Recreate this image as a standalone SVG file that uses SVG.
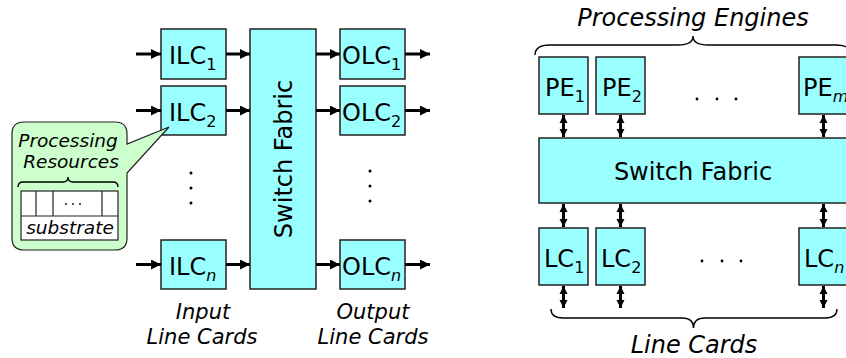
<svg xmlns="http://www.w3.org/2000/svg" width="846" height="358" viewBox="0 0 846 358">
<style>
text{font-family:"DejaVu Sans",Verdana,sans-serif;fill:#000}
.box{fill:#99ffff;stroke:#222;stroke-width:1.5}
.lbl{font-size:24px}
.sub{font-size:16px}
.it{font-style:italic}
.cap{font-size:21px;font-style:italic;text-anchor:middle}
.capR{font-size:24px;font-style:italic;text-anchor:middle}
.arr{stroke:#000;stroke-width:3;fill:none;marker-end:url(#ah)}
.darr{stroke:#000;stroke-width:3;fill:none;marker-end:url(#dh);marker-start:url(#dh)}
.brace{fill:none;stroke:#000;stroke-width:1.4}
.thin{fill:none;stroke:#222;stroke-width:1.2}
.dot{fill:#000}
</style>
<defs>
<marker id="ah" viewBox="0 0 10 10" refX="10" refY="5" markerWidth="10" markerHeight="10" markerUnits="userSpaceOnUse" orient="auto-start-reverse">
<path d="M0,0 L10,5 L0,10 Z" fill="#000"/>
</marker>
<marker id="dh" viewBox="0 0 10 10" refX="10" refY="5" markerWidth="8" markerHeight="10" markerUnits="userSpaceOnUse" orient="auto-start-reverse">
<path d="M0,0 L10,5 L0,10 Z" fill="#000"/>
</marker>
</defs>

<!-- Left diagram -->
<g id="ILC1"><rect class="box" x="161" y="29" width="65" height="50"/><text class="lbl" x="169" y="64">ILC<tspan class="sub" dy="6">1</tspan></text></g>
<g id="ILC2"><rect class="box" x="161" y="86" width="65" height="49"/><text class="lbl" x="169" y="121">ILC<tspan class="sub" dy="6">2</tspan></text></g>
<g id="ILCn"><rect class="box" x="161" y="240" width="65" height="49"/><text class="lbl" x="169" y="275">ILC<tspan class="sub it" dy="6">n</tspan></text></g>
<g id="SF1"><rect class="box" x="250" y="29" width="66" height="260"/><text class="lbl" transform="translate(292,159) rotate(-90)" text-anchor="middle">Switch Fabric</text></g>
<g id="OLC1"><rect class="box" x="340" y="29" width="65" height="50"/><text class="lbl" x="342" y="64">OLC<tspan class="sub" dy="6">1</tspan></text></g>
<g id="OLC2"><rect class="box" x="340" y="86" width="65" height="49"/><text class="lbl" x="342" y="121">OLC<tspan class="sub" dy="6">2</tspan></text></g>
<g id="OLCn"><rect class="box" x="340" y="240" width="65" height="49"/><text class="lbl" x="342" y="275">OLC<tspan class="sub it" dy="6">n</tspan></text></g>

<g id="dotsL">
<circle class="dot" cx="191" cy="173" r="1.5"/><circle class="dot" cx="191" cy="188" r="1.5"/><circle class="dot" cx="191" cy="203" r="1.5"/>
<circle class="dot" cx="370" cy="171" r="1.5"/><circle class="dot" cx="370" cy="186" r="1.5"/><circle class="dot" cx="370" cy="201" r="1.5"/>
</g>

<g id="callout">
<path d="M24,122 H115 Q127,122 127,134 V144 L169,127 L127,173 V238 Q127,250 115,250 H24 Q12,250 12,238 V134 Q12,122 24,122 Z" fill="#ccffcc" stroke="#222" stroke-width="1.2"/>
<text class="it" font-size="18.5" x="68" y="147" text-anchor="middle">Processing</text>
<text class="it" font-size="18.5" x="71" y="168" text-anchor="middle">Resources</text>
<path class="brace" d="M18,187 Q18,182 23,182 H63 Q68,182 68,177 Q68,182 73,182 H113 Q118,182 118,187"/>
<rect x="21" y="191" width="97" height="49" fill="#fff" stroke="#222" stroke-width="1.2"/>
<path class="thin" d="M21,216 H118 M36,191 V216 M53,191 V216 M102,191 V216"/>
<circle class="dot" cx="66" cy="204" r="0.9"/><circle class="dot" cx="73" cy="204" r="0.9"/><circle class="dot" cx="80" cy="204" r="0.9"/>
<text class="it" font-size="18.5" x="70" y="234" text-anchor="middle">substrate</text>
</g>

<g id="labelsL">
<text class="cap" x="203" y="319">Input</text>
<text class="cap" x="202" y="344">Line Cards</text>
<text class="cap" x="373" y="319">Output</text>
<text class="cap" x="373" y="344">Line Cards</text>
</g>

<!-- Right diagram -->
<g id="PE1"><rect class="box" x="539" y="57" width="49" height="57"/><text class="lbl" x="545" y="96">PE<tspan class="sub" dy="6">1</tspan></text></g>
<g id="PE2"><rect class="box" x="596" y="57" width="49" height="57"/><text class="lbl" x="602" y="96">PE<tspan class="sub" dy="6">2</tspan></text></g>
<g id="PEm"><rect class="box" x="799" y="57" width="49" height="57"/><text class="lbl" x="803" y="96">PE<tspan class="sub it" dy="6">m</tspan></text></g>
<g id="SF2"><rect class="box" x="539" y="138" width="309" height="65"/><text class="lbl" x="693" y="180" text-anchor="middle">Switch Fabric</text></g>
<g id="LC1"><rect class="box" x="539" y="228" width="49" height="57"/><text class="lbl" x="544" y="267">LC<tspan class="sub" dy="6">1</tspan></text></g>
<g id="LC2"><rect class="box" x="596" y="228" width="49" height="57"/><text class="lbl" x="601" y="267">LC<tspan class="sub" dy="6">2</tspan></text></g>
<g id="LCn"><rect class="box" x="799" y="228" width="49" height="57"/><text class="lbl" x="804" y="267">LC<tspan class="sub it" dy="6">n</tspan></text></g>

<g id="dotsR">
<circle class="dot" cx="697" cy="99" r="1.4"/><circle class="dot" cx="717" cy="99" r="1.4"/><circle class="dot" cx="736" cy="99" r="1.4"/>
<circle class="dot" cx="702" cy="261" r="1.4"/><circle class="dot" cx="722" cy="261" r="1.4"/><circle class="dot" cx="741" cy="261" r="1.4"/>
</g>

<g id="braces">
<path class="brace" d="M535,55 Q535,45 550,45 H678 Q693,45 693,36 Q693,45 708,45 H836 Q851,45 851,55"/>
<path class="brace" d="M551,309 Q551,318 563,318 H682 Q693.5,318 693.5,328 Q693.5,318 705,318 H825 Q837,318 837,309"/>
</g>
<g id="labelsR">
<text class="capR" x="693" y="26">Processing Engines</text>
<text class="capR" x="694" y="353">Line Cards</text>
</g>

<g id="connectors">
<path class="arr" d="M136,54 H161"/><path class="arr" d="M226,54 H250"/><path class="arr" d="M316,54 H340"/><path class="arr" d="M405,54 H430"/>
<path class="arr" d="M136,110.5 H161"/><path class="arr" d="M226,110.5 H250"/><path class="arr" d="M316,110.5 H340"/><path class="arr" d="M405,110.5 H430"/>
<path class="arr" d="M136,264.5 H161"/><path class="arr" d="M226,264.5 H250"/><path class="arr" d="M316,264.5 H340"/><path class="arr" d="M405,264.5 H430"/>
<path class="darr" d="M563.5,115 V137"/><path class="darr" d="M620.5,115 V137"/><path class="darr" d="M823.5,115 V137"/>
<path class="darr" d="M563.5,204 V227"/><path class="darr" d="M620.5,204 V227"/><path class="darr" d="M823.5,204 V227"/>
<path class="darr" d="M563.5,286 V308"/><path class="darr" d="M620.5,286 V308"/><path class="darr" d="M823.5,286 V308"/>
</g>
</svg>
